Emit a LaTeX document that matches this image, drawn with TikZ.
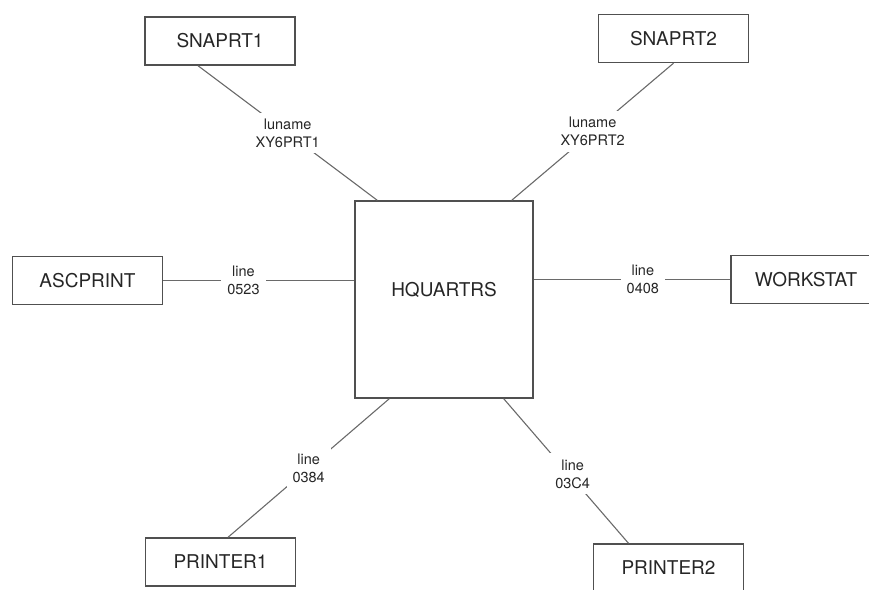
\documentclass[tikz,border=0pt]{standalone}
\usepackage{fontspec}
\setmainfont{TeX Gyre Heros}
\usepackage{tikz}
\usetikzlibrary{positioning,calc}
\definecolor{boxgray}{HTML}{505050}
\definecolor{linkgray}{HTML}{6A6A6A}
\tikzset{
  sysbox/.style={draw=boxgray,line width=1.4pt,minimum width=150pt,minimum height=48pt,
    inner sep=0pt,text=black!85,font=\fontsize{19}{22}\selectfont},
  link/.style={draw=linkgray,line width=1.1pt},
  linklabel/.style={fill=white,inner xsep=6pt,inner ysep=6pt,align=center,
    text=black!85,font=\fontsize{14.5}{18}\selectfont},
}

\begin{document}
\begin{tikzpicture}[x=1pt,y=-1pt]
\clip (0,0) rectangle (869,589);

% host node
\node[sysbox,minimum width=178pt,minimum height=197pt,text depth=20pt] (hq) at (444,299.5) {HQUARTRS};

% attached nodes
\node[sysbox] (snap1) at (220,41) {SNAPRT1};
\node[sysbox] (snap2) at (673.5,38.5) {SNAPRT2};
\node[sysbox] (asc) at (87.5,280.5) {ASCPRINT};
\node[sysbox] (work) at (806,279.5) {WORKSTAT};
\node[sysbox] (prt1) at (220.5,562) {PRINTER1};
\node[sysbox] (prt2) at (668.5,568) {PRINTER2};

\path
([xshift=-22pt]snap1.south) edge[link] node[linklabel] {luname\\XY6PRT1} ([xshift=23pt]hq.north west)
(snap2.south) edge[link] node[linklabel] {luname\\XY6PRT2} ([xshift=-22pt]hq.north east)
(asc.east) edge[link] node[linklabel,pos=0.42] {line\\0523} (asc.east -| hq.west)
(work.west -| hq.east) edge[link] node[linklabel,pos=0.555] {line\\0408} (work.west)
([xshift=35pt]hq.south west) edge[link] node[linklabel] {line\\0384} ([xshift=7.5pt]prt1.north)
([xshift=-30pt]hq.south east) edge[link] node[linklabel,pos=0.52,xshift=4pt] {line\\03C4} ([xshift=-40pt]prt2.north);

\end{tikzpicture}
\end{document}
